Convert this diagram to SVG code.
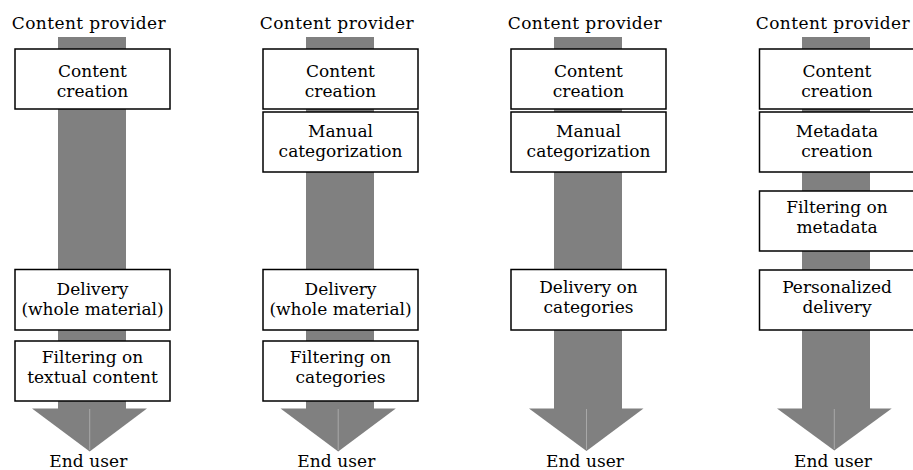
<svg xmlns="http://www.w3.org/2000/svg" width="913" height="470" viewBox="0 0 913 470">
<style>
  .shaft { fill: #808080; }
  .head { fill: #808080; }
  .seam { stroke: #a8a8a8; stroke-width: 1; }
  .box { fill: #ffffff; stroke: #000000; stroke-width: 1.5; }
  .t { font-family: "DejaVu Serif", serif; fill: #000000; text-anchor: middle; }
  .bt { font-size: 17px; }
  .lbl { font-size: 17px; }
  .eu { font-size: 17px; }
</style>
<rect x="0" y="0" width="913" height="470" fill="#ffffff"/>
<g id="connectors">
  <g id="flow1">
    <rect class="shaft" x="58" y="37" width="68" height="372"/>
    <polygon class="head" points="32,408.5 147,408.5 89.7,451.5"/>
    <line class="seam" x1="89.7" y1="409" x2="89.7" y2="450"/>
  </g>
  <g id="flow2">
    <rect class="shaft" x="306" y="37" width="68" height="372"/>
    <polygon class="head" points="280.5,408.5 395.8,408.5 338.2,451.5"/>
    <line class="seam" x1="338.2" y1="409" x2="338.2" y2="450"/>
  </g>
  <g id="flow3">
    <rect class="shaft" x="554" y="37" width="68" height="372"/>
    <polygon class="head" points="529,408.5 643.5,408.5 586.5,451"/>
    <line class="seam" x1="586.5" y1="409" x2="586.5" y2="449.5"/>
  </g>
  <g id="flow4">
    <rect class="shaft" x="802" y="37" width="68" height="372"/>
    <polygon class="head" points="777,408.5 891.7,408.5 834.3,450.5"/>
    <line class="seam" x1="834.3" y1="409" x2="834.3" y2="449"/>
  </g>
</g>
<g id="labels">
  <text id="cp1" class="t lbl" x="88.7" y="29.3" textLength="154" lengthAdjust="spacing">Content provider</text>
  <text id="cp2" class="t lbl" x="336.7" y="29.3" textLength="154" lengthAdjust="spacing">Content provider</text>
  <text id="cp3" class="t lbl" x="584.7" y="29.3" textLength="154" lengthAdjust="spacing">Content provider</text>
  <text id="cp4" class="t lbl" x="832.7" y="29.3" textLength="154" lengthAdjust="spacing">Content provider</text>
  <text id="eu1" class="t eu" x="88.3" y="467" textLength="78" lengthAdjust="spacing">End user</text>
  <text id="eu2" class="t eu" x="336.3" y="467" textLength="78" lengthAdjust="spacing">End user</text>
  <text id="eu3" class="t eu" x="585" y="467" textLength="78" lengthAdjust="spacing">End user</text>
  <text id="eu4" class="t eu" x="833" y="467" textLength="78" lengthAdjust="spacing">End user</text>
</g>
<g id="c1-creation">
  <rect class="box" x="15" y="49" width="155" height="60"/>
  <text class="t bt" x="92.5" y="76.5">Content</text>
  <text class="t bt" x="92.5" y="96.5">creation</text>
</g>
<g id="c1-delivery">
  <rect class="box" x="15" y="269.5" width="155" height="60.5"/>
  <text class="t bt" x="92.5" y="295">Delivery</text>
  <text class="t bt" x="92.5" y="315">(whole material)</text>
</g>
<g id="c1-filtering">
  <rect class="box" x="15" y="341" width="155" height="60"/>
  <text class="t bt" x="92.5" y="363.3">Filtering on</text>
  <text class="t bt" x="92.5" y="383.3">textual content</text>
</g>
<g id="c2-creation">
  <rect class="box" x="263" y="49" width="155" height="60"/>
  <text class="t bt" x="340.5" y="76.5">Content</text>
  <text class="t bt" x="340.5" y="96.5">creation</text>
</g>
<g id="c2-manual">
  <rect class="box" x="263" y="112" width="155" height="60"/>
  <text class="t bt" x="340.5" y="136.7">Manual</text>
  <text class="t bt" x="340.5" y="156.7">categorization</text>
</g>
<g id="c2-delivery">
  <rect class="box" x="263" y="269.5" width="155" height="60.5"/>
  <text class="t bt" x="340.5" y="295">Delivery</text>
  <text class="t bt" x="340.5" y="315">(whole material)</text>
</g>
<g id="c2-filtering">
  <rect class="box" x="263" y="341" width="155" height="60"/>
  <text class="t bt" x="340.5" y="363.3">Filtering on</text>
  <text class="t bt" x="340.5" y="383.3">categories</text>
</g>
<g id="c3-creation">
  <rect class="box" x="511" y="49" width="155" height="60"/>
  <text class="t bt" x="588.5" y="76.5">Content</text>
  <text class="t bt" x="588.5" y="96.5">creation</text>
</g>
<g id="c3-manual">
  <rect class="box" x="511" y="112" width="155" height="60"/>
  <text class="t bt" x="588.5" y="136.7">Manual</text>
  <text class="t bt" x="588.5" y="156.7">categorization</text>
</g>
<g id="c3-delivery">
  <rect class="box" x="511" y="269.5" width="155" height="60.5"/>
  <text class="t bt" x="588.5" y="293.3">Delivery on</text>
  <text class="t bt" x="588.5" y="313.3">categories</text>
</g>
<g id="c4-creation">
  <rect class="box" x="759.5" y="49" width="155" height="60"/>
  <text class="t bt" x="837" y="76.5">Content</text>
  <text class="t bt" x="837" y="96.5">creation</text>
</g>
<g id="c4-metadata">
  <rect class="box" x="759.5" y="112" width="155" height="60"/>
  <text class="t bt" x="837" y="136.7">Metadata</text>
  <text class="t bt" x="837" y="156.7">creation</text>
</g>
<g id="c4-filtering">
  <rect class="box" x="759.5" y="191" width="155" height="60"/>
  <text class="t bt" x="837" y="213.3">Filtering on</text>
  <text class="t bt" x="837" y="233.3">metadata</text>
</g>
<g id="c4-delivery">
  <rect class="box" x="759.5" y="270" width="155" height="60"/>
  <text class="t bt" x="837" y="293.3">Personalized</text>
  <text class="t bt" x="837" y="313.3">delivery</text>
</g>
</svg>
